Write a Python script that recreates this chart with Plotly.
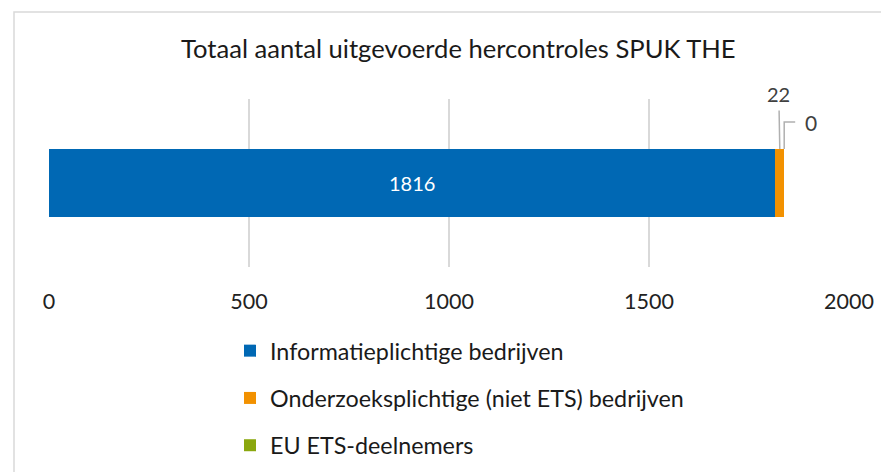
import plotly.graph_objects as go

# Data
series_names = ["Informatieplichtige bedrijven",
                "Onderzoeksplichtige (niet ETS) bedrijven",
                "EU ETS-deelnemers"]
series_values = [1816, 22, 0]
series_colors = ["#0068b4", "#f29100", "#8aa70e"]
x_ticks = [0, 500, 1000, 1500, 2000]
title_text = "Totaal aantal uitgevoerde hercontroles SPUK THE"

FONT = "Lato, Source Sans Pro, Roboto, sans-serif"
W_FIG, H_FIG = 881, 472
TOP, BOTTOM = 99, 267
H = BOTTOM - TOP

fig = go.Figure()
for i, (name, val, col) in enumerate(zip(series_names, series_values, series_colors)):
    fig.add_trace(go.Bar(
        x=[val], y=[0], orientation="h", name=name,
        marker=dict(color=col, line=dict(width=0)),
        width=0.405,
        text=[str(val)] if i == 0 else None,
        textposition="inside" if i == 0 else "none",
        insidetextanchor="middle",
        textfont=dict(color="white", size=20, family=FONT),
        legendgroup=f"g{i}",
        hoverinfo="skip",
    ))

cum = [sum(series_values[:k + 1]) for k in range(len(series_values))]

annotations = [
    dict(text=title_text, xref="paper", yref="paper", x=(458 - 49) / 800, y=1.0,
         yshift=51, xanchor="center", yanchor="middle", showarrow=False,
         font=dict(size=25.6, color="#1a1a1a", family=FONT)),
    # label for orange series with vertical leader
    dict(text=str(series_values[1]), x=cum[0] + series_values[1] / 2, y=0.2025,
         xref="x", yref="y", showarrow=True, arrowhead=0, ax=-1, ay=-55,
         arrowcolor="#b0b0b0", arrowwidth=1.5, startstandoff=3,
         font=dict(size=20, color="#404040", family=FONT)),
    # label for green series (elbow leader drawn as shape)
    dict(text=str(series_values[2]), x=cum[2], y=0.2025, xref="x", yref="y",
         showarrow=False, xshift=27, yshift=26,
         font=dict(size=21, color="#404040", family=FONT)),
]

shapes = [
    dict(type="path", xref="x", yref="y", xsizemode="pixel", ysizemode="pixel",
         xanchor=cum[2], yanchor=0.2025, path="M 0,0 L 0,27 L 11,27",
         line=dict(color="#b0b0b0", width=1.5)),
    dict(type="rect", xref="paper", yref="paper",
         x0=(14 - 49) / 800, x1=(910 - 49) / 800,
         y0=(BOTTOM - 490) / H, y1=(BOTTOM - 12) / H,
         line=dict(color="#d9d9d9", width=1.5), fillcolor="rgba(0,0,0,0)", layer="below"),
]

fig.update_layout(
    width=W_FIG, height=H_FIG,
    margin=dict(l=49, r=32, t=TOP, b=H_FIG - BOTTOM, autoexpand=False),
    barmode="stack",
    plot_bgcolor="white", paper_bgcolor="white",
    font=dict(family=FONT, color="#222222"),
    showlegend=True,
    legend=dict(orientation="v", x=(230 - 49) / 800, xanchor="left",
                yref="container", y=1 - 329 / H_FIG, yanchor="top",
                font=dict(size=23.3, color="#1a1a1a", family=FONT),
                tracegroupgap=14, traceorder="grouped", itemwidth=30),
    annotations=annotations,
    shapes=shapes,
    xaxis=dict(range=[0, 2000], tickvals=x_ticks, ticktext=[str(t) for t in x_ticks],
               showgrid=True, gridcolor="#d9d9d9", gridwidth=1.5, zeroline=False,
               showline=False, ticks="", tickfont=dict(size=21.5, color="#222222", family=FONT),
               ticklabelstandoff=19, fixedrange=True),
    yaxis=dict(range=[-0.5, 0.5], showticklabels=False, showgrid=False, zeroline=False,
               showline=False, fixedrange=True),
)

fig.write_html("out.html", config={"displayModeBar": False},
               post_script="document.body.style.margin='0';document.body.style.overflow='hidden';")
